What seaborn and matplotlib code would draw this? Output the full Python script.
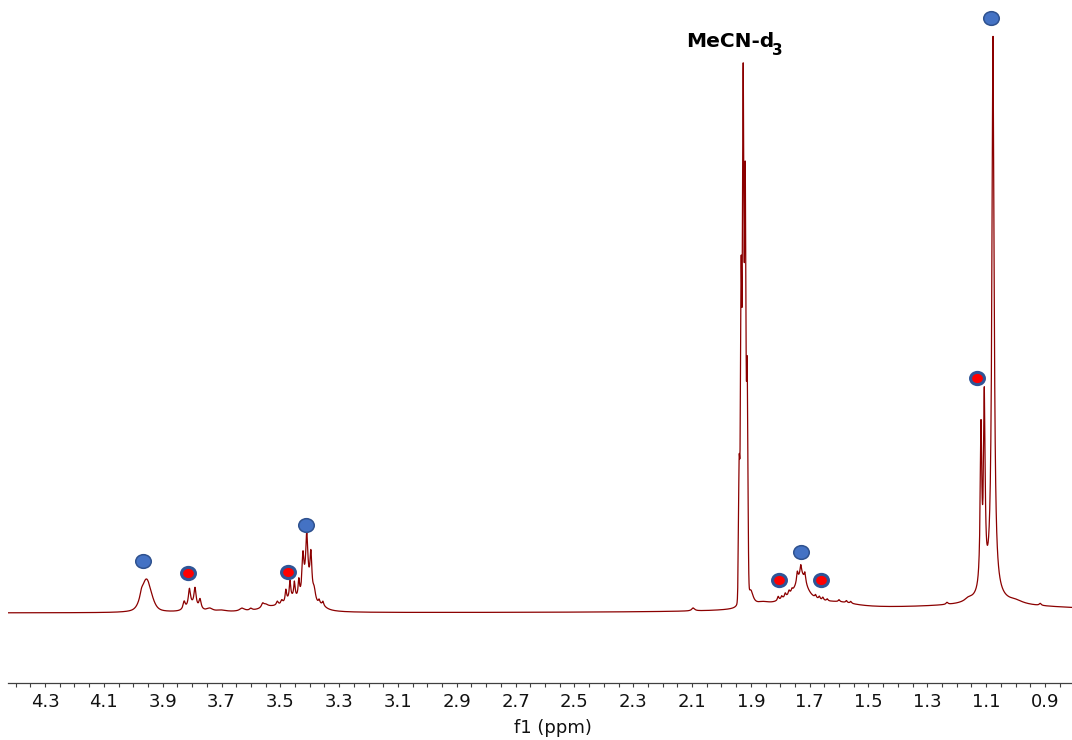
import numpy as np
import pandas as pd
import matplotlib
matplotlib.use("Agg")
import matplotlib.pyplot as plt
import seaborn as sns
from matplotlib.path import Path
from matplotlib.ticker import FixedLocator, MultipleLocator

# ---------------- data ----------------
# peak list: chemical shift (ppm), height (a.u.), half-width (ppm), Lorentzian fraction
peak_ppm = [3.955, 3.972,
            3.800, 3.827, 3.809, 3.790, 3.773,
            3.740, 3.700, 3.630, 3.600, 3.560, 3.550, 3.530, 3.510, 3.495,
            3.460, 3.481, 3.467, 3.452, 3.437,
            3.410, 3.423, 3.410, 3.396, 3.385, 3.368, 3.355, 3.360,
            2.096,
            1.9396, 1.9328, 1.9260, 1.9192, 1.9124, 1.900, 1.860,
            1.750, 1.728, 1.807, 1.795, 1.783, 1.770, 1.760, 1.742, 1.730, 1.716,
            1.680, 1.667, 1.655, 1.640, 1.600, 1.600, 1.575, 1.560,
            1.100,
            1.233, 1.160, 1.090, 1.1174, 1.1061, 1.0765, 1.000, 0.916]
peak_height = [33, 5,
               5, 8, 18, 19, 10,
               3, 1.5, 3, 2, 4, 3, 4, 4, 4,
               10, 12, 18, 16, 18,
               25, 39, 45, 42, 12, 4, 4, 4,
               3,
               140, 330, 520, 420, 230, 14, 4,
               10, 24, 4, 3, 4, 4, 3, 10, 10, 9,
               3, 3, 3, 2, 5, 2, 2, 2,
               7,
               2, 3, 12, 157, 184, 555, 3, 2]
peak_width = [0.020, 0.006,
              0.020, 0.0045, 0.0045, 0.0045, 0.0045,
              0.012, 0.020, 0.010, 0.005, 0.005, 0.010, 0.050, 0.004, 0.004,
              0.030, 0.003, 0.003, 0.003, 0.003,
              0.012, 0.004, 0.004, 0.004, 0.006, 0.003, 0.003, 0.020,
              0.006,
              0.0028, 0.0028, 0.0028, 0.0028, 0.0028, 0.010, 0.030,
              0.080, 0.022, 0.003, 0.003, 0.003, 0.003, 0.003, 0.003, 0.003, 0.003,
              0.003, 0.003, 0.003, 0.003, 0.080, 0.003, 0.003, 0.003,
              0.45,
              0.004, 0.015, 0.040, 0.0032, 0.0032, 0.0045, 0.030, 0.004]
peak_lorentz = [0.5, 1.0,
                1.0, 1.0, 1.0, 1.0, 1.0,
                1.0, 1.0, 1.0, 1.0, 1.0, 1.0, 1.0, 1.0, 1.0,
                1.0, 1.0, 1.0, 1.0, 1.0,
                1.0, 1.0, 1.0, 1.0, 1.0, 1.0, 1.0, 1.0,
                1.0,
                0.1, 0.1, 0.1, 0.1, 0.1, 1.0, 1.0,
                1.0, 1.0, 1.0, 1.0, 1.0, 1.0, 1.0, 1.0, 1.0, 1.0,
                1.0, 1.0, 1.0, 1.0, 1.0, 1.0, 1.0, 1.0,
                1.0,
                1.0, 1.0, 1.0, 1.0, 1.0, 1.0, 1.0, 1.0]

# signal assignment markers: ppm, height, kind
marker_ppm = [3.967, 3.412, 1.729, 1.082, 3.814, 3.473, 1.803, 1.661, 1.130]
marker_height = [52, 88, 61, 595, 40, 41, 33, 33, 235]
marker_kind = ["blue", "blue", "blue", "blue", "red", "red", "red", "red", "red"]

tick_values = [4.3, 4.1, 3.9, 3.7, 3.5, 3.3, 3.1, 2.9, 2.7, 2.5, 2.3, 2.1,
               1.9, 1.7, 1.5, 1.3, 1.1, 0.9]
tick_labels = ["4.3", "4.1", "3.9", "3.7", "3.5", "3.3", "3.1", "2.9", "2.7",
               "2.5", "2.3", "2.1", "1.9", "1.7", "1.5", "1.3", "1.1", "0.9"]

solvent_text = "MeCN-d"
solvent_sub = "3"
solvent_ppm = 2.120
solvent_height = 566

# ---------------- build spectrum ----------------
ppm = np.linspace(0.79, 4.44, 40000)
intensity = np.zeros_like(ppm)
for c, h, w, eta in zip(peak_ppm, peak_height, peak_width, peak_lorentz):
    d = (ppm - c) / w
    intensity += h * (eta / (1.0 + d ** 2) + (1.0 - eta) * np.exp(-np.log(2) * d ** 2))

df = pd.DataFrame({"ppm": ppm, "intensity": intensity})

# ---------------- plot ----------------
sns.set_style("white")
plt.rcParams["font.family"] = ["DejaVu Sans"]

fig = plt.figure(figsize=(10.72, 7.4), dpi=100)
ax = fig.add_axes([8 / 1072, 57 / 740, 1064 / 1072, 683 / 740])

sns.lineplot(data=df, x="ppm", y="intensity", ax=ax, color="#8B0000",
             linewidth=0.9, estimator=None, sort=False)

# ellipse-shaped marker
circ = Path.unit_circle()
ell = Path(circ.vertices * np.array([1.0, 0.88]), circ.codes)

mk = pd.DataFrame({"ppm": marker_ppm, "h": marker_height, "kind": marker_kind})
blue = mk[mk.kind == "blue"]
red = mk[mk.kind == "red"]
ax.scatter(blue.ppm, blue.h, s=125, marker=ell, facecolor="#4472C4",
           edgecolor="#2F528F", linewidth=1.1, zorder=5)
ax.scatter(red.ppm, red.h, s=100, marker=ell, facecolor="#FF0000",
           edgecolor="#2F5597", linewidth=2.2, zorder=5)

ax.text(solvent_ppm, solvent_height, solvent_text, fontsize=14.5,
        fontweight="bold", ha="left", va="baseline", color="black")
ax.annotate(solvent_sub, xy=(solvent_ppm, solvent_height), xytext=(62, -5.5),
            textcoords="offset points", fontsize=11, fontweight="bold",
            ha="left", va="baseline", color="black")

ax.set_xlim(4.426, 0.808)
ax.set_ylim(-70, 613)
ax.set_yticks([])
ax.set_ylabel("")

ax.xaxis.set_major_locator(FixedLocator(tick_values))
ax.set_xticklabels(tick_labels)
ax.xaxis.set_minor_locator(MultipleLocator(0.05))
ax.tick_params(axis="x", which="both", direction="out", length=3, width=0.8,
               color="#404040", bottom=True)
ax.tick_params(axis="x", which="major", labelsize=13, pad=4, labelcolor="#111111")

for s in ["top", "left", "right"]:
    ax.spines[s].set_visible(False)
ax.spines["bottom"].set_color("#404040")
ax.spines["bottom"].set_linewidth(0.9)

ax.set_xlabel("f1 (ppm)", fontsize=13, color="#111111")
ax.xaxis.set_label_coords(0.512, -0.053)

fig.savefig("out.png", dpi=100)
